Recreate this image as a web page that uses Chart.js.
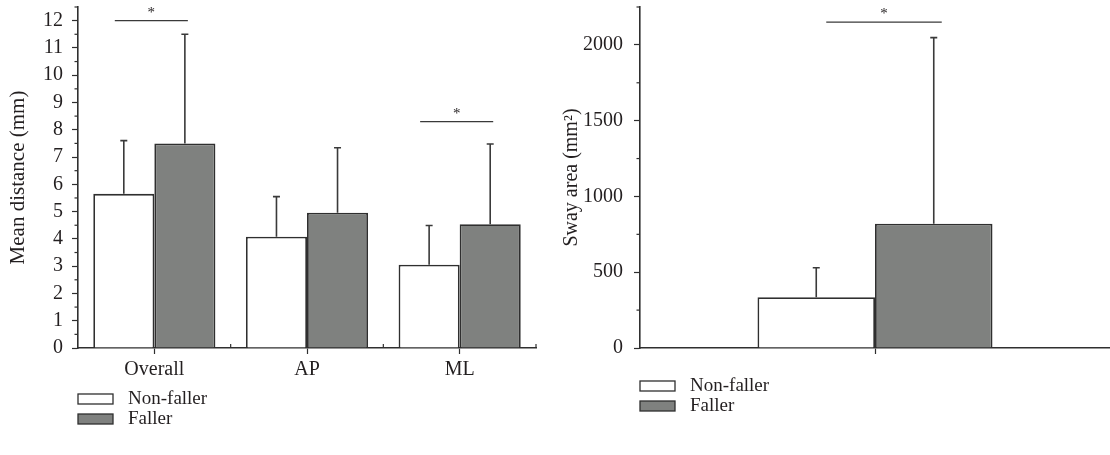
<!DOCTYPE html>
<html>
<head>
<meta charset="utf-8">
<script src="https://cdn.jsdelivr.net/npm/chart.js@4.4.1/dist/chart.umd.min.js"></script>
<style>
  body { margin: 0; background: #fff; }
  .box { position: absolute; top: 0; height: 455px; }
</style>
</head>
<body>
<div class="box" style="left:0;width:556px"><canvas id="distChart"></canvas></div>
<div class="box" style="left:560px;width:550px"><canvas id="swayChart"></canvas></div>
<script>
// Left panel: mean distance
const distCategories = ["Overall", "AP", "ML"];
const distNonFaller = [5.65, 4.08, 3.05];
const distNonFallerErr = [1.95, 1.47, 1.44];
const distFaller = [7.5, 4.96, 4.54];
const distFallerErr = [4.0, 2.38, 2.94];
const distSigIndex = [0, 2];
const distSigLevel = [12.0, 8.3];

// Right panel: sway area
const swayCategories = [""];
const swayNonFaller = [335];
const swayNonFallerErr = [195];
const swayFaller = [820];
const swayFallerErr = [1228];
const swaySigIndex = [0];
const swaySigLevel = [2150];

const seriesNames = ["Non-faller", "Faller"];

const INK = "#231f20";
const LINE = "#2f2f2f";
const FONT = "'Liberation Serif', 'DejaVu Serif', serif";

Chart.defaults.font.family = FONT;
Chart.defaults.color = INK;

// error bars (upper half only)
const errorBars = {
  id: "errorBars",
  afterDatasetsDraw(chart) {
    const ctx = chart.ctx;
    const y = chart.scales.y;
    ctx.save();
    ctx.strokeStyle = "#3a3a3a";
    ctx.lineWidth = 1.6;
    chart.data.datasets.forEach((ds, di) => {
      chart.getDatasetMeta(di).data.forEach((bar, i) => {
        const top = y.getPixelForValue(ds.data[i] + ds.errors[i]);
        ctx.beginPath();
        ctx.moveTo(bar.x, bar.y);
        ctx.lineTo(bar.x, top);
        ctx.moveTo(bar.x - 3.5, top);
        ctx.lineTo(bar.x + 3.5, top);
        ctx.stroke();
      });
    });
    ctx.restore();
  }
};

// minor y ticks, category boundary ticks, significance marks, legend
const extras = {
  id: "extras",
  afterDraw(chart, args, opts) {
    const ctx = chart.ctx;
    const area = chart.chartArea;
    const y = chart.scales.y;
    ctx.save();
    ctx.strokeStyle = LINE;
    ctx.lineWidth = 1.2;
    y.ticks.forEach(t => {
      if (t.value % opts.major !== 0) {
        const py = y.getPixelForValue(t.value);
        ctx.beginPath();
        ctx.moveTo(area.left - 3.5, py);
        ctx.lineTo(area.left, py);
        ctx.stroke();
      }
    });
    if (opts.boundaryTicks) {
      const n = chart.data.labels.length;
      const w = (area.right - area.left) / n;
      for (let i = 1; i <= n; i++) {
        const px = area.left + w * i;
        ctx.beginPath();
        ctx.moveTo(px, area.bottom);
        ctx.lineTo(px, area.bottom - 4);
        ctx.stroke();
      }
    }
    // significance
    const m0 = chart.getDatasetMeta(0).data;
    const m1 = chart.getDatasetMeta(1).data;
    ctx.strokeStyle = "#3a3a3a";
    ctx.lineWidth = 1.4;
    ctx.fillStyle = INK;
    ctx.font = "15px " + FONT;
    ctx.textAlign = "center";
    ctx.textBaseline = "middle";
    opts.sigIndex.forEach((idx, k) => {
      const py = y.getPixelForValue(opts.sigLevel[k]);
      const x0 = m0[idx].x + opts.sigPad[0];
      const x1 = m1[idx].x + opts.sigPad[1];
      ctx.beginPath();
      ctx.moveTo(x0, py);
      ctx.lineTo(x1, py);
      ctx.stroke();
      ctx.fillText("*", (x0 + x1) / 2, py - 8);
    });
    // legend
    ctx.font = "19px " + FONT;
    ctx.textAlign = "left";
    chart.data.datasets.forEach((ds, i) => {
      const top = opts.legendTop + i * 20;
      ctx.fillStyle = ds.backgroundColor;
      ctx.fillRect(area.left, top, 35, 10);
      ctx.strokeStyle = LINE;
      ctx.lineWidth = 1.3;
      ctx.strokeRect(area.left, top, 35, 10);
      ctx.fillStyle = INK;
      ctx.fillText(ds.label, area.left + 50, top + 5);
    });
    ctx.restore();
  }
};

function fixBox(size, prop) {
  return function (scale) {
    scale[prop] = size;
    scale.paddingTop = 0;
    scale.paddingBottom = 0;
    scale.paddingLeft = 0;
    scale.paddingRight = 0;
  };
}

function makeChart(id, cfg) {
  const datasets = [
    { label: seriesNames[0], data: cfg.nonFaller, errors: cfg.nonFallerErr,
      backgroundColor: "#ffffff", borderColor: LINE, borderWidth: 1.8 },
    { label: seriesNames[1], data: cfg.faller, errors: cfg.fallerErr,
      backgroundColor: "#7f817f", borderColor: LINE, borderWidth: 1.8 }
  ];
  return new Chart(document.getElementById(id), {
    type: "bar",
    data: { labels: cfg.labels, datasets },
    plugins: [errorBars, extras],
    options: {
      responsive: true,
      maintainAspectRatio: false,
      animation: false,
      datasets: { bar: { barPercentage: 1.0, categoryPercentage: cfg.catPct } },
      layout: { padding: { top: 7, right: cfg.padRight, bottom: 73, left: 0 } },
      plugins: {
        legend: { display: false },
        tooltip: { enabled: false },
        extras: {
          major: cfg.major,
          boundaryTicks: cfg.boundaryTicks,
          sigIndex: cfg.sigIndex,
          sigLevel: cfg.sigLevel,
          sigPad: cfg.sigPad,
          legendTop: cfg.legendTop
        }
      },
      scales: {
        x: {
          afterFit: fixBox(34, "height"),
          border: { color: LINE, width: 1.6 },
          grid: { offset: false, drawOnChartArea: false, tickLength: 6, tickColor: LINE, tickWidth: 1.2 },
          ticks: { font: { size: 20 }, padding: 4, color: INK }
        },
        y: {
          min: 0,
          max: cfg.yMax,
          afterFit: fixBox(cfg.yWidth, "width"),
          border: { color: LINE, width: 1.6 },
          grid: {
            drawOnChartArea: false,
            tickLength: 6,
            tickWidth: 1.2,
            tickColor: c => (c.tick && c.tick.value % cfg.major === 0) ? LINE : "rgba(0,0,0,0)"
          },
          ticks: {
            stepSize: cfg.step,
            autoSkip: false,
            padding: cfg.tickPad,
            font: { size: 20 },
            color: INK,
            callback: v => (v % cfg.major === 0 ? String(v) : "")
          },
          title: {
            display: true,
            text: cfg.title,
            font: { size: cfg.titleSize },
            color: INK,
            padding: { top: cfg.titlePad, bottom: 0 }
          }
        }
      }
    }
  });
}

makeChart("distChart", {
  labels: distCategories,
  nonFaller: distNonFaller, nonFallerErr: distNonFallerErr,
  faller: distFaller, fallerErr: distFallerErr,
  sigIndex: distSigIndex, sigLevel: distSigLevel, sigPad: [-9, 3],
  yMax: 12.5, step: 0.5, major: 1,
  yWidth: 78, padRight: 20, catPct: 0.8, boundaryTicks: true,
  tickPad: 9, titlePad: 6, titleSize: 21, legendTop: 394,
  title: "Mean distance (mm)"
});

makeChart("swayChart", {
  labels: swayCategories,
  nonFaller: swayNonFaller, nonFallerErr: swayNonFallerErr,
  faller: swayFaller, fallerErr: swayFallerErr,
  sigIndex: swaySigIndex, sigLevel: swaySigLevel, sigPad: [10, 8],
  yMax: 2250, step: 250, major: 500,
  yWidth: 80, padRight: 0, catPct: 0.5, boundaryTicks: false,
  tickPad: 11, titlePad: 0, titleSize: 20, legendTop: 381,
  title: "Sway area (mm\u00b2)"
});
</script>
</body>
</html>
